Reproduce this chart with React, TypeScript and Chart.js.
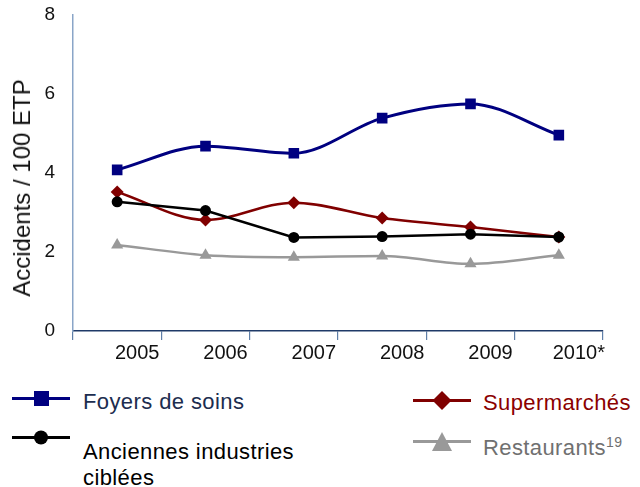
import React, { useEffect, useRef } from "react";
import { Chart, registerables } from "chart.js";

Chart.register(...registerables);

const years = ["2005", "2006", "2007", "2008", "2009", "2010*"];
const foyers = [4.08, 4.68, 4.5, 5.39, 5.75, 4.96];
const anciennes = [3.27, 3.05, 2.37, 2.39, 2.45, 2.38];
const supermarches = [3.52, 2.81, 3.25, 2.86, 2.63, 2.38];
const restaurants = [2.18, 1.92, 1.87, 1.9, 1.7, 1.92];
const yTicks = [0, 2, 4, 6, 8];

const FONT = "'Liberation Sans', Arial, sans-serif";
const NAVY = "#000080";
const MAROON = "#800000";
const BLACK = "#000000";
const GREY = "#999999";

type Marker = "square" | "circle" | "diamond" | "triangle";

function LegendIcon({ color, marker }: { color: string; marker: Marker }) {
  let shape: React.ReactNode = null;
  if (marker === "square") shape = <rect x={22} y={4} width={15} height={15} fill={color} />;
  if (marker === "circle") shape = <circle cx={29} cy={11.5} r={7} fill={color} />;
  if (marker === "diamond") shape = <polygon points="29,2 38.5,11.5 29,21 19.5,11.5" fill={color} />;
  if (marker === "triangle") shape = <polygon points="29,2 39,21 19,21" fill={color} />;
  return (
    <svg width={58} height={23} style={{ display: "block" }}>
      <line x1={0} y1={11.5} x2={58} y2={11.5} stroke={color} strokeWidth={3} />
      {shape}
    </svg>
  );
}

export default function App() {
  const ref = useRef<HTMLCanvasElement | null>(null);

  useEffect(() => {
    if (!ref.current) return;
    const chart = new Chart(ref.current, {
      type: "line",
      data: {
        labels: years,
        datasets: [
          {
            label: "Anciennes industries ciblées",
            data: anciennes,
            borderColor: BLACK,
            backgroundColor: BLACK,
            borderWidth: 2.5,
            tension: 0,
            pointStyle: "circle",
            pointRadius: 5.5,
            pointBorderWidth: 0,
          },
          {
            label: "Foyers de soins",
            data: foyers,
            borderColor: NAVY,
            backgroundColor: NAVY,
            borderWidth: 3,
            cubicInterpolationMode: "monotone",
            pointStyle: "rect",
            pointRadius: 7.5,
            pointBorderWidth: 0,
          },
          {
            label: "Supermarchés",
            data: supermarches,
            borderColor: MAROON,
            backgroundColor: MAROON,
            borderWidth: 2.5,
            cubicInterpolationMode: "monotone",
            pointStyle: "rectRot",
            pointRadius: 6.5,
            pointBorderWidth: 0,
          },
          {
            label: "Restaurants",
            data: restaurants,
            borderColor: GREY,
            backgroundColor: GREY,
            borderWidth: 2.5,
            cubicInterpolationMode: "monotone",
            pointStyle: "triangle",
            pointRadius: 7,
            pointBorderWidth: 0,
          },
        ],
      },
      options: {
        animation: false,
        responsive: false,
        maintainAspectRatio: false,
        layout: { padding: { left: 0, right: 37, top: 15, bottom: 0 } },
        plugins: { legend: { display: false }, tooltip: { enabled: false } },
        scales: {
          x: {
            type: "category",
            offset: true,
            grid: {
              offset: true,
              drawOnChartArea: false,
              drawTicks: true,
              tickLength: 9,
              color: "#5f7fa8",
              lineWidth: 1.2,
            },
            border: { display: true, color: "#1f3a68", width: 1.5 },
            ticks: {
              color: "#111111",
              font: { family: FONT, size: 20 },
              padding: 1,
              labelOffset: 20,
              maxRotation: 0,
              autoSkip: false,
            },
            afterFit: (s: any) => {
              s.height = 44;
              s.paddingLeft = 0;
              s.paddingRight = 0;
            },
          },
          y: {
            min: 0,
            max: 8,
            grid: { display: true, drawOnChartArea: false, drawTicks: false },
            border: { display: true, color: "#8aa5c8", width: 1.5 },
            afterBuildTicks: (s: any) => {
              s.ticks = yTicks.map((v) => ({ value: v }));
            },
            ticks: {
              color: "#111111",
              font: { family: FONT, size: 19 },
              padding: 18,
            },
            afterFit: (s: any) => {
              s.width = 73;
              s.paddingTop = 0;
              s.paddingBottom = 0;
            },
          },
        },
      },
    });
    return () => chart.destroy();
  }, []);

  const textBase: React.CSSProperties = {
    position: "absolute",
    fontFamily: FONT,
    fontSize: 22,
    lineHeight: "26px",
    letterSpacing: "0.4px",
    whiteSpace: "nowrap",
  };

  return (
    <div style={{ position: "absolute", left: 0, top: 0, width: 640, height: 487, background: "#fff" }}>
      <canvas ref={ref} width={640} height={375} style={{ position: "absolute", left: 0, top: 0 }} />
      <div
        style={{
          position: "absolute",
          left: 22,
          top: 188,
          transform: "translate(-50%, -50%) rotate(-90deg)",
          fontFamily: FONT,
          fontSize: 24,
          lineHeight: "28px",
          whiteSpace: "nowrap",
          color: "#111",
        }}
      >
        Accidents / 100 ETP
      </div>

      <div style={{ position: "absolute", left: 12, top: 387 }}>
        <LegendIcon color={NAVY} marker="square" />
      </div>
      <div style={{ ...textBase, left: 83, top: 389, color: "#1c2d4f" }}>Foyers de soins</div>

      <div style={{ position: "absolute", left: 413, top: 389 }}>
        <LegendIcon color={MAROON} marker="diamond" />
      </div>
      <div style={{ ...textBase, left: 483, top: 390, color: "#8b0000" }}>Supermarchés</div>

      <div style={{ position: "absolute", left: 12, top: 426 }}>
        <LegendIcon color={BLACK} marker="circle" />
      </div>
      <div style={{ ...textBase, left: 83, top: 439, color: "#000" }}>
        Anciennes industries
        <br />
        ciblées
      </div>

      <div style={{ position: "absolute", left: 413, top: 430 }}>
        <LegendIcon color={GREY} marker="triangle" />
      </div>
      <div style={{ ...textBase, left: 483, top: 435, color: "#707070" }}>
        Restaurants
        <sup style={{ fontSize: 14, lineHeight: 0, verticalAlign: "super" }}>19</sup>
      </div>
    </div>
  );
}
